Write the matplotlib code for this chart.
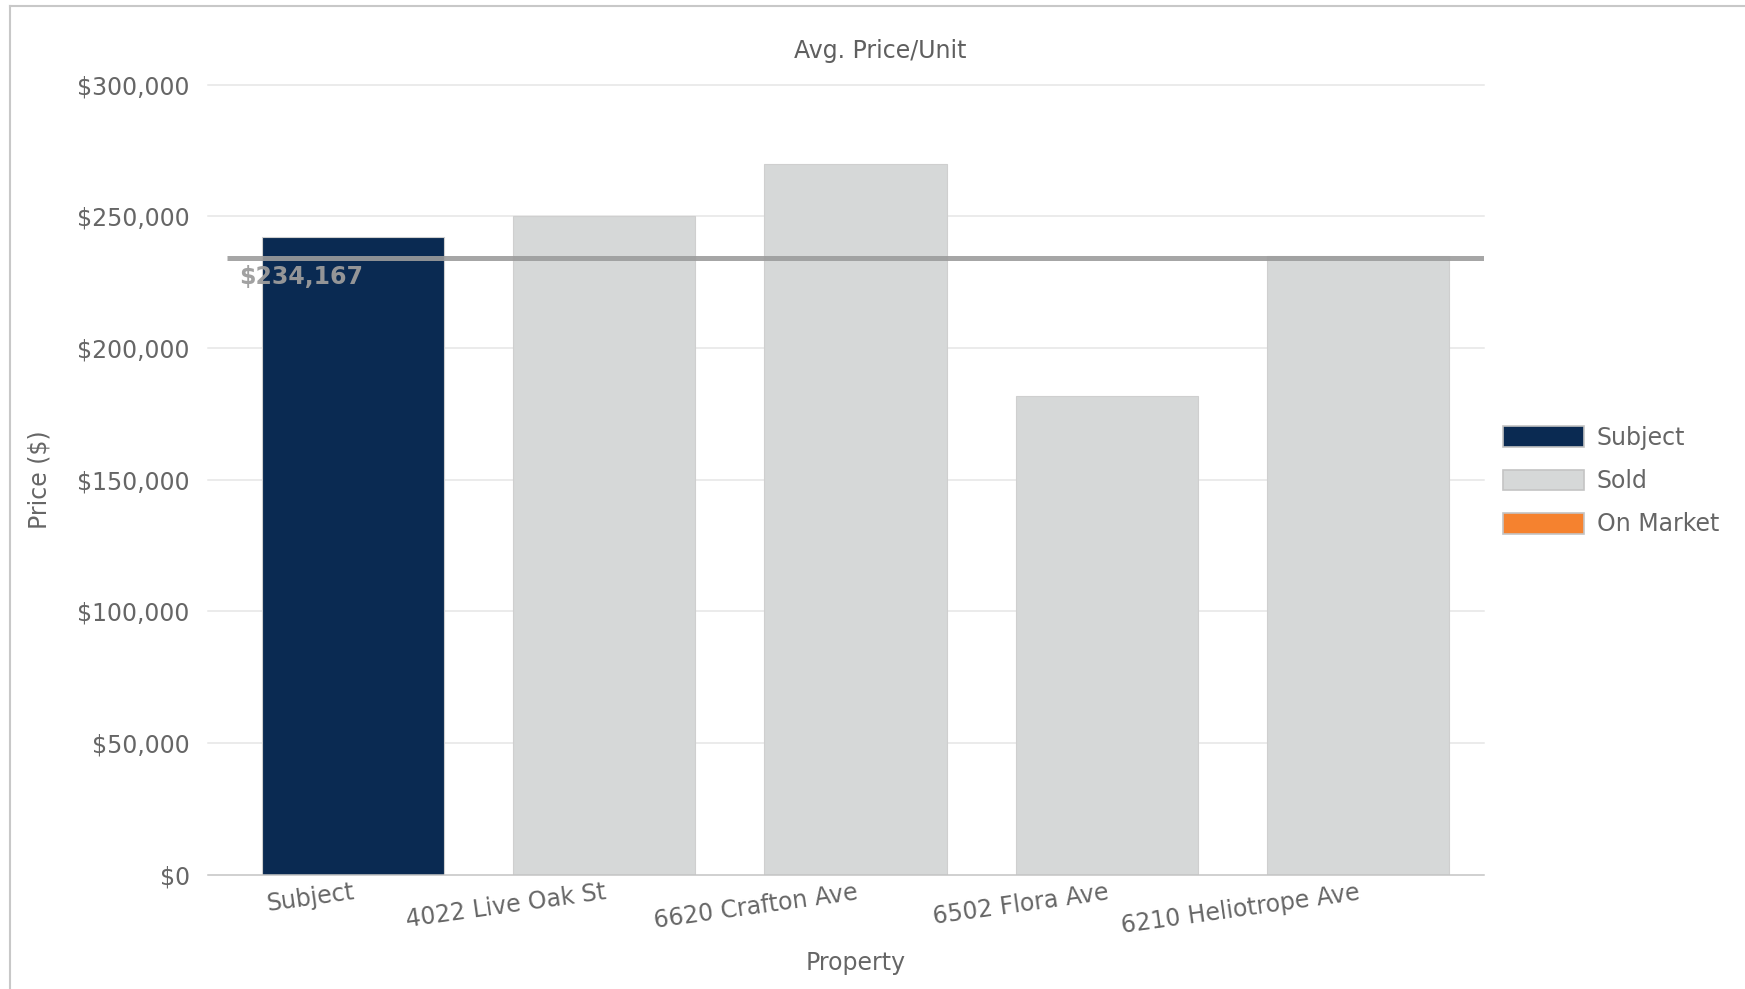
import matplotlib
matplotlib.use('Agg')
import matplotlib.pyplot as plt
from matplotlib.lines import Line2D
from matplotlib.patches import Patch
from matplotlib.ticker import FuncFormatter

# =============================================================================
# Data
# =============================================================================
properties = ['Subject', '4022 Live Oak St', '6620 Crafton Ave',
              '6502 Flora Ave', '6210 Heliotrope Ave']
prices = [242000, 250000, 270000, 181667, 235000]
status = ['Subject', 'Sold', 'Sold', 'Sold', 'Sold']
avg_price = 234167
legend_labels = ['Subject', 'Sold', 'On Market']
yticks = [0, 50000, 100000, 150000, 200000, 250000, 300000]

colors = {'Subject': '#0a2a52', 'Sold': '#d6d8d8', 'On Market': '#f5822f'}
text_grey = '#666666'
grid_grey = '#e6e6e6'

# =============================================================================
# Figure
# =============================================================================
W, H = 1745, 989
fig = plt.figure(figsize=(W / 100, H / 100), dpi=100)
ax = fig.add_axes([227 / W, 1 - 874.8 / H, (1484 - 227) / W, (874.8 - 84.6) / H])

x = list(range(len(properties)))
bar_colors = [colors[s] for s in status]
ax.bar(x, prices, width=0.725, color=bar_colors, edgecolor='#cfcfcf',
       linewidth=0.8, zorder=2)

# Average line
ax.plot([-0.5, 4.5], [avg_price, avg_price], color='#9c9c9c', alpha=0.9,
        linewidth=3.6, solid_capstyle='butt', zorder=3)
ax.annotate(f'${avg_price:,.0f}', xy=(-0.5, avg_price), xytext=(8.6, -13.7),
            textcoords='offset points', ha='left', va='center',
            fontsize=17, fontweight='bold', color='#9c9c9c', alpha=0.95, zorder=4)

# Axes limits and ticks
ax.set_xlim(-0.5, 4.5)
ax.set_ylim(0, 300000)
ax.set_yticks(yticks)
ax.yaxis.set_major_formatter(FuncFormatter(lambda v, p: f'${v:,.0f}'))
ax.set_xticks(x)
ax.set_xticklabels(properties, rotation=8, ha='right', va='top',
                   rotation_mode='anchor')
ax.tick_params(axis='y', length=0, pad=26.8, labelsize=17, labelcolor=text_grey)
ax.tick_params(axis='x', length=0, pad=4, labelsize=17, labelcolor=text_grey)

# Grid lines reaching a little left of the plot area
overhang = -18.6 / 1257
for v in yticks[1:]:
    ax.axhline(v, xmin=overhang, xmax=1, color=grid_grey, linewidth=1.1,
               clip_on=False, zorder=0)
ax.axhline(0, xmin=overhang, xmax=1, color='#c4c4c4', linewidth=1.1,
           clip_on=False, zorder=5)

# Box off
for side in ['top', 'right', 'left', 'bottom']:
    ax.spines[side].set_visible(False)

# Labels
ax.set_ylabel('Price ($)', fontsize=17, color=text_grey)
ax.yaxis.set_label_coords((40 - 227) / (1484 - 227), 0.5)
ax.yaxis.label.set_verticalalignment('center')
ax.set_xlabel('Property', fontsize=17, color=text_grey)
ax.xaxis.set_label_coords(0.5, (874.8 - 963) / (874.8 - 84.6))
ax.xaxis.label.set_verticalalignment('center')

fig.text(880 / W, 1 - 51 / H, 'Avg. Price/Unit', ha='center', va='center',
         fontsize=17, color='#5f5f5f')

# Legend
handles = [Patch(facecolor=colors[l], edgecolor='#c4c4c4', linewidth=1.2)
           for l in legend_labels]
lgd = fig.legend(handles, legend_labels, loc='center left',
                 bbox_to_anchor=(1503 / W, 1 - 481 / H), fontsize=17,
                 handlelength=3.42, handleheight=0.97, handletextpad=0.55,
                 labelspacing=0.82, borderpad=0, borderaxespad=0)
lgd.set_frame_on(False)
for t in lgd.get_texts():
    t.set_color(text_grey)

# Outer frame (left and top edges)
fig.add_artist(Line2D([9.5 / W, 9.5 / W], [0, 1 - 5.5 / H],
                      transform=fig.transFigure, color='#c8c8c8', linewidth=1.5))
fig.add_artist(Line2D([9.5 / W, 1], [1 - 5.5 / H, 1 - 5.5 / H],
                      transform=fig.transFigure, color='#c8c8c8', linewidth=1.5))

fig.savefig('out.png', dpi=100)
